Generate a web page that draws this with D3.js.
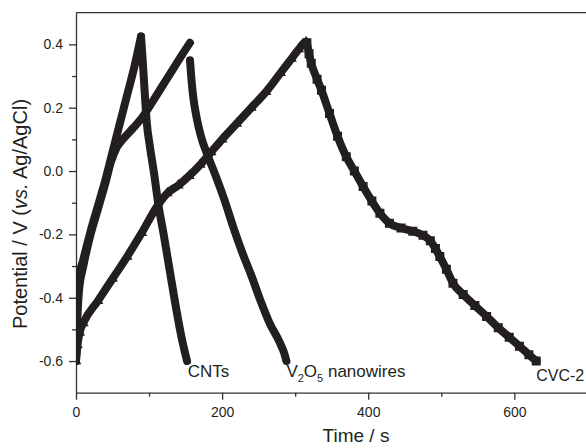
<!DOCTYPE html>
<html>
<head>
<meta charset="utf-8">
<script src="https://cdn.jsdelivr.net/npm/d3@7"></script>
<style>
  html, body { margin: 0; padding: 0; background: #fff; }
  svg { display: block; }
  text { font-family: "Liberation Sans", Arial, sans-serif; fill: #231f20; }
</style>
</head>
<body>
<svg id="chart" width="586" height="448"></svg>
<script>
// Galvanostatic charge/discharge curves: [time (s), potential (V vs. Ag/AgCl)]
const cntsCharge = [
  [0, -0.6], [1, -0.45], [2, -0.36], [10, -0.28], [20, -0.19], [30, -0.11],
  [40, -0.03], [50, 0.06], [60, 0.15], [70, 0.24], [80, 0.33], [89, 0.425]
];
const cntsDischarge = [
  [89, 0.425], [91, 0.36], [94, 0.25], [97, 0.15], [101, 0.08], [107, -0.01],
  [113, -0.11], [120, -0.2], [128, -0.31], [136, -0.42], [144, -0.52], [152, -0.6]
];
const v2o5Charge = [
  [0, -0.6], [2, -0.46], [4, -0.38], [10, -0.3], [20, -0.2], [30, -0.12],
  [40, -0.04], [48, 0.03], [56, 0.075], [66, 0.105], [78, 0.135], [91, 0.17],
  [105, 0.22], [120, 0.275], [135, 0.33], [146, 0.37], [156, 0.405]
];
const v2o5Discharge = [
  [156, 0.35], [158, 0.29], [160.5, 0.234], [165, 0.17], [171, 0.11], [181, 0.045],
  [192, -0.02], [203, -0.09], [215, -0.175], [228, -0.26], [240, -0.33],
  [252, -0.406], [265, -0.48], [279, -0.542], [285, -0.575], [288, -0.6]
];
const cvcCharge = [
  [0, -0.6], [2, -0.55], [5, -0.51], [10, -0.48], [30, -0.41], [50, -0.34],
  [70, -0.27], [90, -0.195], [110, -0.115], [125, -0.07], [140, -0.045],
  [155, -0.015], [170, 0.02], [185, 0.06], [200, 0.1], [220, 0.15], [240, 0.2],
  [260, 0.25], [280, 0.31], [295, 0.355], [305, 0.385], [315, 0.408]
];
const cvcDischarge = [
  [316, 0.405], [319, 0.37], [322, 0.34], [330, 0.29], [336, 0.255], [347, 0.182],
  [358, 0.11], [370, 0.045], [381, 0.0], [393, -0.049], [405, -0.095], [416, -0.133],
  [429, -0.165], [445, -0.18], [461, -0.19], [475, -0.203], [485, -0.22],
  [492, -0.245], [498, -0.27], [507, -0.31], [516, -0.354], [530, -0.39],
  [546, -0.425], [562, -0.459], [578, -0.495], [593, -0.525], [607, -0.553],
  [620, -0.58], [630, -0.6]
];

// Axis ticks
const xMajorTicks = [0, 200, 400, 600];
const xMinorTicks = [100, 300, 500];
const yMajorTicks = [-0.6, -0.4, -0.2, 0.0, 0.2, 0.4];
const yMinorTicks = [-0.5, -0.3, -0.1, 0.1, 0.3];

// Curve labels: text anchored at a (time, potential) spot
const curveLabels = [
  { name: "CNTs", t: 153, v: -0.65, size: 17 },
  { name: "V2O5", t: 288, v: -0.65, size: 17 },
  { name: "CVC-2", t: 630, v: -0.664, size: 16 }
];

const ink = "#231f20";
const svg = d3.select("#chart");

const x = d3.scaleLinear().domain([0, 700]).range([76, 587.4]);
const y = d3.scaleLinear().domain([-0.7, 0.5]).range([392.7, 12.7]);

// Axes
const yFmt = d => d3.format(".1f")(d).replace("\u2212", "-");

svg.append("g").attr("transform", `translate(${x(0)},0)`)
  .call(d3.axisLeft(y).tickValues(yMajorTicks).tickFormat(yFmt)
    .tickSize(7).tickSizeOuter(0).tickPadding(6));
svg.append("g").attr("transform", `translate(${x(0)},0)`)
  .call(d3.axisLeft(y).tickValues(yMinorTicks).tickFormat("")
    .tickSize(4).tickSizeOuter(0))
  .select(".domain").remove();

svg.append("g").attr("transform", `translate(0,${y(-0.7)})`)
  .call(d3.axisBottom(x).tickValues(xMajorTicks).tickFormat(d3.format("d"))
    .tickSize(7).tickSizeOuter(0).tickPadding(7));
svg.append("g").attr("transform", `translate(0,${y(-0.7)})`)
  .call(d3.axisBottom(x).tickValues(xMinorTicks).tickFormat("")
    .tickSize(4).tickSizeOuter(0))
  .select(".domain").remove();

// top frame line
svg.append("line")
  .attr("x1", x(0)).attr("x2", x(700))
  .attr("y1", y(0.5)).attr("y2", y(0.5))
  .attr("stroke", "#333").attr("stroke-width", 1.3);

svg.selectAll(".domain, .tick line").attr("stroke", "#333").attr("stroke-width", 1.3);
svg.selectAll(".tick text").attr("font-size", 14).attr("fill", "#231f20")
  .attr("font-family", "Liberation Sans, Arial, sans-serif");

// Axis titles
svg.append("text")
  .attr("x", 356).attr("y", 442)
  .attr("text-anchor", "middle").attr("font-size", 19)
  .text("Time / s");

const yTitle = svg.append("text")
  .attr("transform", "translate(27,214) rotate(-90)")
  .attr("text-anchor", "middle").attr("font-size", 20);
yTitle.append("tspan").text("Potential / V (");
yTitle.append("tspan").attr("font-style", "italic").text("vs.");
yTitle.append("tspan").text(" Ag/AgCl)");

// Curves
svg.append("clipPath").attr("id", "plot-clip")
  .append("rect").attr("x", x(0)).attr("y", y(0.5))
  .attr("width", x(700) - x(0)).attr("height", y(-0.7) - y(0.5));

const plot = svg.append("g").attr("clip-path", "url(#plot-clip)");

const line = d3.line()
  .x(d => x(d[0])).y(d => y(d[1]))
  .curve(d3.curveMonotoneX);

[cntsCharge, cntsDischarge, v2o5Charge, v2o5Discharge, cvcCharge.concat(cvcDischarge.slice(1))]
  .forEach(series => {
    plot.append("path")
      .attr("d", line(series))
      .attr("fill", "none")
      .attr("stroke", ink)
      .attr("stroke-width", 8)
      .attr("stroke-linejoin", "round")
      .attr("stroke-linecap", "round");
  });

// CVC-2 markers: triangles while charging, squares while discharging
plot.selectAll(".tri").data(cvcCharge).join("path")
  .attr("class", "tri")
  .attr("transform", d => `translate(${x(d[0])},${y(d[1])})`)
  .attr("d", d3.symbol(d3.symbolTriangle, 50))
  .attr("fill", ink);
plot.selectAll(".sq").data(cvcDischarge).join("path")
  .attr("class", "sq")
  .attr("transform", d => `translate(${x(d[0])},${y(d[1])})`)
  .attr("d", d3.symbol(d3.symbolSquare, 81))
  .attr("fill", ink);

// Curve labels
curveLabels.forEach(l => {
  const t = svg.append("text")
    .attr("x", x(l.t)).attr("y", y(l.v))
    .attr("font-size", l.size);
  if (l.name === "V2O5") {
    t.append("tspan").text("V");
    t.append("tspan").attr("font-size", 11).attr("dy", 5).text("2");
    t.append("tspan").attr("dy", -5).text("O");
    t.append("tspan").attr("font-size", 11).attr("dy", 5).text("5");
    t.append("tspan").attr("dy", -5).text(" nanowires");
  } else {
    t.text(l.name);
  }
});
</script>
</body>
</html>
